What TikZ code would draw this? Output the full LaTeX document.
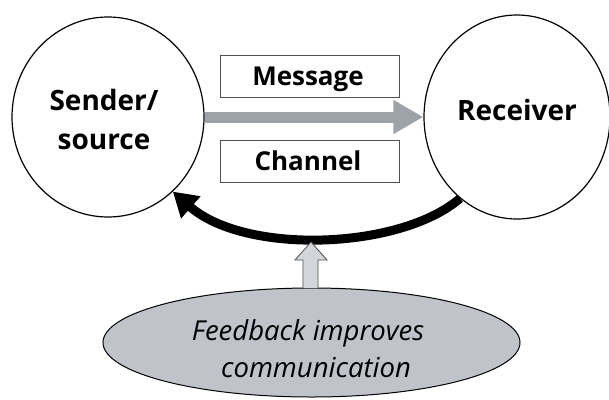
\documentclass[tikz,border=0pt]{standalone}
\usepackage{fontspec}
\setmainfont{Open Sans}
\usetikzlibrary{shapes.geometric,arrows.meta}
\definecolor{msggray}{RGB}{158,163,170}
\definecolor{fbfill}{RGB}{192,196,202}
\definecolor{upfill}{RGB}{210,213,218}
\definecolor{boxline}{RGB}{80,80,80}
\tikzset{
  party/.style={ellipse, draw=black, line width=1.2pt, inner sep=0pt},
  bigtext/.style={font=\fontsize{28}{39}\selectfont\bfseries, align=center, inner sep=0pt},
  labelbox/.style={draw=boxline, line width=1pt, minimum width=179pt, minimum height=42pt, inner sep=0pt},
  boxtext/.style={font=\fontsize{26}{30}\selectfont\bfseries, inner sep=0pt},
  fbnode/.style={ellipse, draw=black, line width=1pt, fill=fbfill, minimum width=417pt, minimum height=109pt, inner sep=0pt},
  fbtext/.style={font=\fontsize{27.5}{37}\selectfont\itshape, align=center, inner sep=0pt},
}
\begin{document}
\begin{tikzpicture}[x=1pt,y=-1pt]
\useasboundingbox (0,0) rectangle (609,399);
% parties
\node[party, minimum width=192pt, minimum height=200pt] (send) at (108,117) {};
\node[party, minimum width=186pt, minimum height=204pt] (recv) at (517,117) {};
\node[bigtext] (sendlbl) at (104,119) {Sender/\\source};
\node[bigtext] (recvlbl) at (517,110) {Receiver};
% boxes
\node[labelbox] (msg) at (309.5,76) {};
\node[labelbox] (chan) at (309.5,161) {};
\node[boxtext] (msglbl) at (308,79) {Message};
\node[boxtext] (chanlbl) at (308,161) {Channel};
% message arrow
\draw[msggray, line width=11pt, -{Triangle[length=30pt,width=32pt]}] (send.east) -- (recv.west);
% feedback ellipse
\node[fbnode] (fb) at (311.5,342.5) {};
\node[fbtext] (fblbl) at (308,349) {Feedback improves\\\hspace*{16pt}communication};
% feedback curve
\draw[black, line width=9pt, -{Triangle[length=24pt,width=28pt]}]
  (recv.-125.5) .. controls (400,250) and (245,255) .. (send.-49.5);
% up arrow
\coordinate (uptip) at (311,242);
\draw[draw=boxline, fill=upfill, line width=0.8pt]
  (303,288) -- (303,260) -- (295,260) -- (uptip) -- (327,260) -- (318,260) -- (318,288);
\end{tikzpicture}
\end{document}
